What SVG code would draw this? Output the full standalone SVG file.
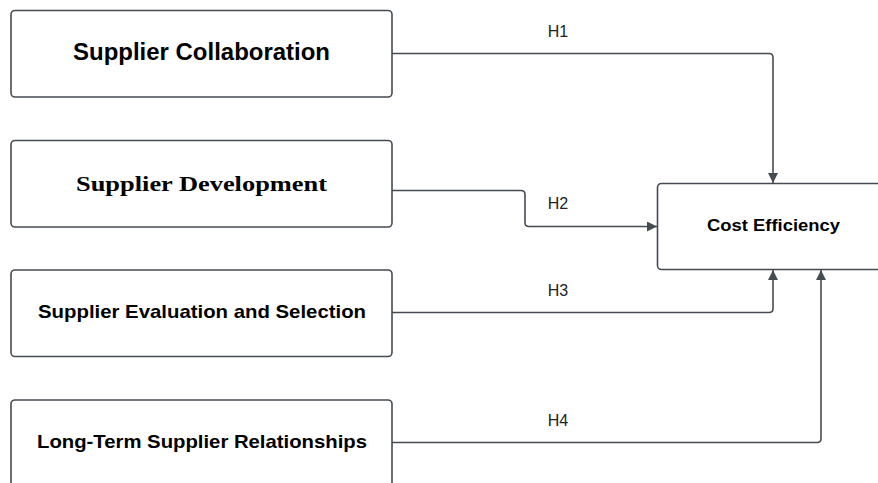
<svg xmlns="http://www.w3.org/2000/svg" width="878" height="483" viewBox="0 0 878 483">
<style>
.box{fill:#fff;stroke:#454b54;stroke-width:1.6}
.t{font-family:"Liberation Sans",Arial,sans-serif;font-weight:bold;fill:#000;text-anchor:middle}
.lbl{font-family:"Liberation Sans",Arial,sans-serif;font-size:16px;fill:#222;text-anchor:middle}
.c{fill:none;stroke:#454b54;stroke-width:1.6;stroke-linejoin:round}
</style>
<defs>
<marker id="ah" viewBox="0 0 10 10" refX="10" refY="5" markerWidth="10" markerHeight="10" markerUnits="userSpaceOnUse" orient="auto">
<path d="M0,0 L10,5 L0,10 Z" fill="#454b54"/>
</marker>
</defs>
<rect width="878" height="483" fill="#fff"/>
<g id="n1"><rect class="box" x="11" y="10.5" width="381" height="86.5" rx="4"/><text class="t" x="201.5" y="59.5" font-size="23" textLength="257" lengthAdjust="spacingAndGlyphs">Supplier Collaboration</text></g>
<g id="n2"><rect class="box" x="11" y="140.5" width="381" height="86.5" rx="4"/><text class="t" x="201.5" y="191" style="font-family:'Liberation Serif','Times New Roman',serif;font-size:22px" textLength="251" lengthAdjust="spacingAndGlyphs">Supplier Development</text></g>
<g id="n3"><rect class="box" x="11" y="270" width="381" height="86.5" rx="4"/><text class="t" x="202" y="318" font-size="19" textLength="328" lengthAdjust="spacingAndGlyphs">Supplier Evaluation and Selection</text></g>
<g id="n4"><rect class="box" x="11" y="400" width="381" height="100" rx="4"/><text class="t" x="202" y="448" font-size="19" textLength="330" lengthAdjust="spacingAndGlyphs">Long-Term Supplier Relationships</text></g>
<g id="n5"><rect class="box" x="657.5" y="183.5" width="240" height="86" rx="4"/><text class="t" x="773.5" y="230.5" font-size="17" textLength="133" lengthAdjust="spacingAndGlyphs">Cost Efficiency</text></g>
<g id="connectors">
<path class="c" marker-end="url(#ah)" d="M392,53.5 H769 Q773,53.5 773,57.5 V183"/>
<path class="c" marker-end="url(#ah)" d="M392,190.5 H521 Q525,190.5 525,194.5 V222.5 Q525,226.5 529,226.5 H657"/>
<path class="c" marker-end="url(#ah)" d="M392,312.5 H769 Q773,312.5 773,308.5 V270"/>
<path class="c" marker-end="url(#ah)" d="M392,442.5 H817 Q821,442.5 821,438.5 V270"/>
<text class="lbl" x="558" y="36.5">H1</text>
<text class="lbl" x="558" y="209">H2</text>
<text class="lbl" x="558" y="295.5">H3</text>
<text class="lbl" x="558" y="425.5">H4</text>
</g>
</svg>
